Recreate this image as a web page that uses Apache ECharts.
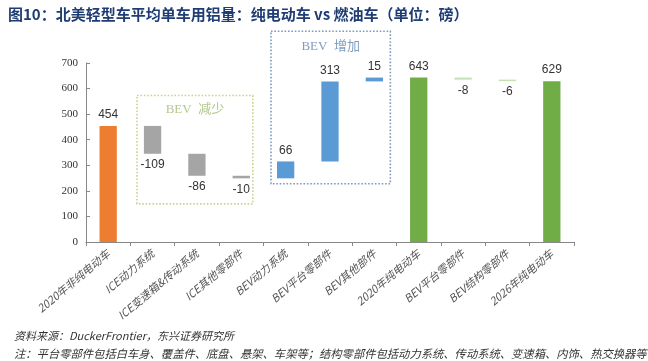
<!DOCTYPE html>
<html><head><meta charset="utf-8">
<script src="https://cdn.jsdelivr.net/npm/echarts@6/dist/echarts.min.js"></script>
<style>html,body{margin:0;padding:0;background:#fff}#c{width:648px;height:361px}</style>
</head><body><div id="c"></div>
<script>
var titleText = '图10：北美轻型车平均单车用铝量：纯电动车 vs 燃油车（单位：磅）';
var sourceText = '资料来源：DuckerFrontier，东兴证券研究所';
var noteText = '注：平台零部件包括白车身、覆盖件、底盘、悬架、车架等；结构零部件包括动力系统、传动系统、变速箱、内饰、热交换器等';
var categories = ['2020年非纯电动车','ICE动力系统','ICE变速箱&传动系统','ICE其他零部件','BEV动力系统','BEV平台零部件','BEV其他部件','2020年纯电动车','BEV平台零部件','BEV结构零部件','2026年纯电动车'];
var values = [454, -109, -86, -10, 66, 313, 15, 643, -8, -6, 629];
var isTotal = [true, false, false, false, false, false, false, true, false, false, true];
var barColors = ['#ED7D31','#A5A5A5','#A5A5A5','#A5A5A5','#5B9BD5','#5B9BD5','#5B9BD5','#70AD47','#C5E0B4','#C5E0B4','#70AD47'];
var yTicks = [0, 700, 100];
var boxes = [
  {x0: 1.15, x1: 3.76, y0: 149, y1: 573, color: '#C4D68E', text: 'BEV  减少', textColor: '#B3C88F', ty: 517},
  {x0: 4.17, x1: 6.86, y0: 228, y1: 824, color: '#7A9CC0', text: 'BEV  增加', textColor: '#7F9DC0', ty: 764}
];

var base = [], shown = [];
var run = 0;
for (var i = 0; i < values.length; i++) {
  if (isTotal[i]) { base.push(0); shown.push(values[i]); run = values[i]; }
  else if (values[i] >= 0) { base.push(run); shown.push(values[i]); run += values[i]; }
  else { run += values[i]; base.push(run); shown.push(-values[i]); }
}

var chart = echarts.init(document.getElementById('c'));
var option = {
  animation: false,
  grid: {left: 86, right: 74, top: 63, bottom: 119},
  title: {text: titleText, left: 3, top: 2, textStyle: {fontSize: 15, fontWeight: 'bold', color: '#1F3D73', fontFamily: 'Noto Sans CJK SC'}},
  xAxis: {
    type: 'category', data: categories,
    axisLine: {lineStyle: {color: '#888'}},
    axisTick: {show: true, alignWithLabel: false, length: 4, lineStyle: {color: '#888'}},
    axisLabel: {rotate: 40, fontSize: 11, color: '#555', margin: 10, interval: 0, fontFamily: 'Noto Sans CJK SC', fontStyle: 'italic'}
  },
  yAxis: {
    type: 'value', min: yTicks[0], max: yTicks[1], interval: yTicks[2],
    axisLine: {show: true, lineStyle: {color: '#888'}},
    axisTick: {show: true, inside: true, length: 4, lineStyle: {color: '#888'}},
    splitLine: {show: false},
    axisLabel: {fontSize: 11, color: '#333', fontFamily: 'Liberation Serif', margin: 8}
  },
  series: [
    {type: 'bar', stack: 'w', data: base, itemStyle: {color: 'transparent'}, barWidth: '39%', silent: true},
    {type: 'bar', stack: 'w', barWidth: '39%',
     data: shown.map(function (v, i) {
       return {value: v, itemStyle: {color: barColors[i]},
         label: {show: true, position: (values[i] < 0 ? 'bottom' : 'top'), distance: 5,
           formatter: String(values[i]), fontSize: 12, color: '#333', fontFamily: 'Liberation Sans'}};
     })}
  ]
};
chart.setOption(option);

var graphics = [];
var step = chart.convertToPixel({gridIndex: 0}, [1, 0])[0] - chart.convertToPixel({gridIndex: 0}, [0, 0])[0];
var origin = chart.convertToPixel({gridIndex: 0}, [0, 0])[0] - step / 2;
boxes.forEach(function (b) {
  var xa = origin + b.x0 * step, xb = origin + b.x1 * step;
  var ya = chart.convertToPixel({gridIndex: 0}, [0, b.y1])[1];
  var yb = chart.convertToPixel({gridIndex: 0}, [0, b.y0])[1];
  var yt = chart.convertToPixel({gridIndex: 0}, [0, b.ty])[1];
  graphics.push({type: 'rect', shape: {x: xa, y: ya, width: xb - xa, height: yb - ya},
    style: {fill: 'none', stroke: b.color, lineWidth: 1.6, lineDash: [1.6, 1.8]}, z: 10});
  graphics.push({type: 'text', x: (xa + xb) / 2, y: yt,
    style: {text: b.text, fill: b.textColor, fontSize: 13, fontFamily: 'Liberation Serif, Noto Sans CJK SC', align: 'center', verticalAlign: 'middle'}, z: 10});
});
graphics.push({type: 'text', left: 14, top: 330, style: {text: sourceText, fill: '#333', fontSize: 11, fontStyle: 'italic', fontFamily: 'Noto Sans CJK SC'}});
graphics.push({type: 'text', left: 14, top: 348, style: {text: noteText, fill: '#333', fontSize: 11.3, fontStyle: 'italic', fontFamily: 'Noto Sans CJK SC'}});
chart.setOption({graphic: graphics});
</script>
</body></html>
